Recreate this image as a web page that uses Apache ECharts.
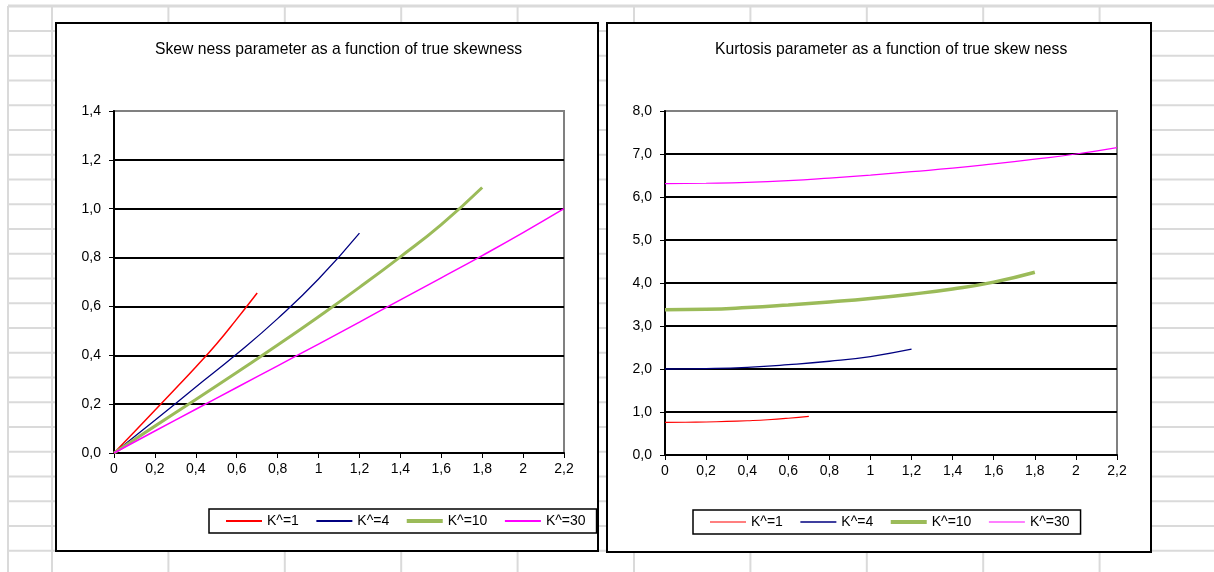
<!DOCTYPE html>
<html>
<head>
<meta charset="utf-8">
<script src="https://cdn.jsdelivr.net/npm/echarts@6/dist/echarts.min.js"></script>
<style>
html,body{margin:0;padding:0;background:#fff;}
#c{width:1214px;height:572px;}
</style>
</head>
<body>
<div id="c"></div>
<script>
// ---- data ----
const seriesNames = ['K^=1', 'K^=4', 'K^=10', 'K^=30'];
const titleSkew = 'Skew ness parameter as a function of true skewness';
const titleKurt = 'Kurtosis parameter as a function of true skew ness';

const xK1  = [0, 0.1, 0.2, 0.3, 0.4, 0.5, 0.6, 0.7];
const xK4  = [0, 0.2, 0.4, 0.6, 0.8, 1.0, 1.2];
const xK10 = [0, 0.2, 0.4, 0.6, 0.8, 1.0, 1.2, 1.4, 1.6, 1.8];
const xK30 = [0, 0.2, 0.4, 0.6, 0.8, 1.0, 1.2, 1.4, 1.6, 1.8, 2.0, 2.2];

const skewK1  = [0, 0.087, 0.175, 0.263, 0.352, 0.445, 0.548, 0.655];
const skewK4  = [0, 0.134, 0.27, 0.405, 0.55, 0.712, 0.9];
const skewK10 = [0, 0.11, 0.219, 0.33, 0.442, 0.558, 0.678, 0.803, 0.935, 1.087];
const skewK30 = [0, 0.09, 0.179, 0.268, 0.357, 0.446, 0.536, 0.627, 0.717, 0.808, 0.902, 1.0];

const kurtK1  = [0.76, 0.762, 0.768, 0.78, 0.797, 0.82, 0.855, 0.9];
const kurtK4  = [2.0, 2.01, 2.04, 2.1, 2.18, 2.29, 2.46];
const kurtK10 = [3.38, 3.39, 3.43, 3.49, 3.56, 3.64, 3.74, 3.86, 4.02, 4.25];
const kurtK30 = [6.31, 6.32, 6.34, 6.38, 6.44, 6.51, 6.59, 6.67, 6.77, 6.88, 7.0, 7.15];

const colors = ['#FF0000', '#000080', '#9BBB59', '#FF00FF'];

// ---- build ----
const FONT = 'Liberation Sans, Arial, sans-serif';
function pairs(xs, ys) { return xs.map((x, i) => [x, ys[i]]); }
function xFmt(v) { const r = Math.round(v * 10) / 10; return String(r).replace('.', ','); }
function yFmt(v) { return v.toFixed(1).replace('.', ','); }

const xsAll = [xK1, xK4, xK10, xK30];
const skewAll = [skewK1, skewK4, skewK10, skewK30];
const kurtAll = [kurtK1, kurtK4, kurtK10, kurtK30];
const leftWidths = [1.5, 1.3, 3, 1.5];
const rightWidths = [1.2, 1.3, 3.5, 1.2];

const series = [];
for (let i = 0; i < 4; i++) {
  series.push({
    name: seriesNames[i], type: 'line', xAxisIndex: 0, yAxisIndex: 0,
    data: pairs(xsAll[i], skewAll[i]), smooth: true, symbol: 'none', showSymbol: false,
    lineStyle: { color: colors[i], width: leftWidths[i] }, itemStyle: { color: colors[i] },
    z: 3
  });
}
for (let i = 0; i < 4; i++) {
  series.push({
    name: seriesNames[i], type: 'line', xAxisIndex: 1, yAxisIndex: 1,
    data: pairs(xsAll[i], kurtAll[i]), smooth: true, symbol: 'none', showSymbol: false,
    lineStyle: { color: colors[i], width: rightWidths[i] }, itemStyle: { color: colors[i] },
    z: 3
  });
}

function xAxisCfg(gi) {
  return {
    gridIndex: gi, type: 'value', min: 0, max: 2.2, interval: 0.2,
    axisLine: { show: true, onZero: false, lineStyle: { color: '#000', width: 2 } },
    axisTick: { show: true, length: 5, lineStyle: { color: '#000', width: 1 } },
    axisLabel: { formatter: xFmt, color: '#000', fontSize: 14, fontFamily: FONT, margin: 9, showMaxLabel: true, showMinLabel: true },
    splitLine: { show: false }
  };
}
function yAxisCfg(gi, max, interval, n) {
  const cols = [];
  for (let k = 0; k < n; k++) cols.push('#000');
  cols.push('#808080');
  return {
    gridIndex: gi, type: 'value', min: 0, max: max, interval: interval,
    axisLine: { show: true, onZero: false, lineStyle: { color: '#000', width: 2 } },
    axisTick: { show: true, length: 5, lineStyle: { color: '#000', width: 1 } },
    axisLabel: { formatter: yFmt, color: '#000', fontSize: 14, fontFamily: FONT, margin: 13 },
    splitLine: { show: true, lineStyle: { color: cols, width: 2 } }
  };
}

// spreadsheet background
const graphics = [];
const gridColor = '#dadada';
const colXs = [8];
for (let k = 0; k < 10; k++) colXs.push(52 + k * 116.4);
colXs.forEach(x => graphics.push({ type: 'line', z: -20, shape: { x1: x, y1: 6, x2: x, y2: 572 }, style: { stroke: gridColor, lineWidth: 2 } }));
graphics.push({ type: 'line', z: -20, shape: { x1: 8, y1: 6, x2: 1214, y2: 6 }, style: { stroke: gridColor, lineWidth: 3 } });
for (let y = 31; y < 572; y += 24.75) {
  graphics.push({ type: 'line', z: -20, shape: { x1: 8, y1: y, x2: 1214, y2: y }, style: { stroke: gridColor, lineWidth: 2 } });
}
// chart boxes
graphics.push({ type: 'rect', z: -10, shape: { x: 56, y: 23, width: 542, height: 528 }, style: { fill: '#fff', stroke: '#000', lineWidth: 2 } });
graphics.push({ type: 'rect', z: -10, shape: { x: 607, y: 23, width: 544, height: 529 }, style: { fill: '#fff', stroke: '#000', lineWidth: 2 } });

// legend line icon: a horizontal bar of given thickness centred in a 36x14 box
function barIcon(t) {
  const a = 7 - t / 2, b = 7 + t / 2;
  return 'path://M0,0L0.01,0L0.01,0.01Z M0,' + a + 'L36,' + a + 'L36,' + b + 'L0,' + b + 'Z M35.99,14L36,14L36,13.99Z';
}
function legendCfg(left, top, widths, gap) {
  return {
    left: left, top: top, orient: 'horizontal',
    padding: [5, 11, 5, 17], itemGap: gap, itemWidth: 36, itemHeight: 14,
    borderColor: '#000', borderWidth: 1.5, backgroundColor: '#fff',
    textStyle: { color: '#000', fontSize: 14, fontFamily: FONT },
    selectedMode: false,
    data: seriesNames.map((n, i) => ({ name: n, icon: barIcon(widths[i]), itemStyle: { color: colors[i], borderWidth: 0 } }))
  };
}

const option = {
  animation: false,
  backgroundColor: '#fff',
  title: [
    { text: titleSkew, left: 150, top: 37, textStyle: { fontSize: 15.7, fontWeight: 'normal', color: '#000', fontFamily: FONT } },
    { text: titleKurt, left: 710, top: 37, textStyle: { fontSize: 15.7, fontWeight: 'normal', color: '#000', fontFamily: FONT } }
  ],
  legend: [legendCfg(209, 509, [2, 2, 4, 2], 17.5), legendCfg(693, 510, [1, 1.5, 4, 1], 17.5)],
  grid: [
    { left: 114, top: 111, width: 450, height: 342, show: true, borderColor: '#808080', borderWidth: 2, backgroundColor: '#fff' },
    { left: 665, top: 111, width: 452, height: 344, show: true, borderColor: '#808080', borderWidth: 2, backgroundColor: '#fff' }
  ],
  xAxis: [xAxisCfg(0), xAxisCfg(1)],
  yAxis: [yAxisCfg(0, 1.4, 0.2, 7), yAxisCfg(1, 8, 1, 8)],
  graphic: { elements: graphics },
  series: series
};

const chart = echarts.init(document.getElementById('c'), null, { renderer: 'canvas' });
chart.setOption(option);
</script>
</body>
</html>
